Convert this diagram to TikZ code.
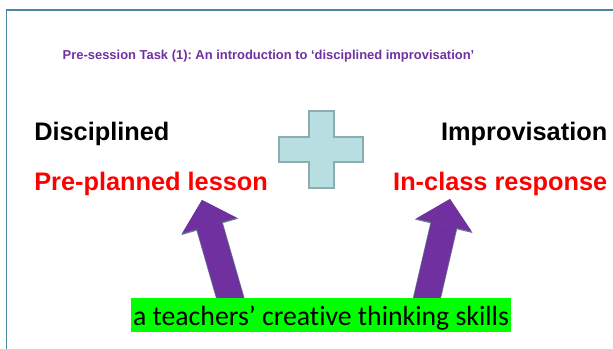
\documentclass[tikz,border=0pt]{standalone}
\usepackage{fontspec}
\setmainfont{Liberation Sans}
\newfontfamily\calibrifont[Ligatures=NoCommon]{Carlito}
\usetikzlibrary{arrows.meta,calc,backgrounds}
\frenchspacing

\definecolor{titlepurple}{HTML}{7030A0}
\definecolor{arrowpurple}{HTML}{7030A0}
\definecolor{arrowedge}{RGB}{95,125,140}
\definecolor{framecol}{RGB}{75,135,160}
\definecolor{plusfill}{RGB}{183,222,225}
\definecolor{plusedge}{RGB}{140,172,176}

\tikzset{
  heading/.style={inner sep=0pt, font=\fontsize{19}{22}\selectfont\bfseries},
  redlabel/.style={heading, text=red},
  upshaft/.style={line width=19.5pt, draw=arrowpurple,
    -{Triangle[length=20pt,width=42.75pt,line width=0pt]},
    preaction={draw=arrowedge, line width=20.6pt,
      -{Triangle[length=21pt,width=44.5pt,line width=0pt]}}}
}

\begin{document}
\begin{tikzpicture}[x=0.75pt,y=-0.75pt]
\useasboundingbox (0,0) rectangle (613,349);

% slide frame
\draw[framecol, line width=1.1pt] (6.5,349) -- (6.5,10) -- (613,10);

% title
\node[inner sep=0pt, anchor=base, text=titlepurple,
      font=\fontsize{9.7}{12}\selectfont\bfseries] (title) at (268.5,59.5)
  {Pre-session Task (1): An introduction to ‘disciplined improvisation’};

% left and right sides
\node[heading, anchor=base west] (disc) at (34,141) {Disciplined};
\node[redlabel, anchor=base west] (lesson) at (34,190) {Pre-planned lesson};
\node[heading, anchor=base east] (improv) at (607.5,141) {Improvisation};
\node[redlabel, anchor=base east] (response) at (607.5,190) {In-class response};

% plus sign
\draw[fill=plusfill, draw=plusedge, line width=0.8pt]
  (309,111) -- (334,111) -- (334,137) -- (363,137) -- (363,162) -- (334,162)
  -- (334,188) -- (309,188) -- (309,162) -- (279,162) -- (279,137) -- (309,137)
  -- cycle;

% creative thinking box
\node[fill=green, inner xsep=1.5pt, inner ysep=0pt, text height=20.25pt,
      text depth=5.25pt, anchor=base, font=\calibrifont\fontsize{20.8}{24}\selectfont]
  (skills) at (321,325) {a teachers’ creative thinking skills};

% arrows up to the two labels
\coordinate (tailL) at ($(skills.north west)+(100.5,4)$);
\coordinate (tailR) at ($(skills.north west)+(295.5,3)$);
\coordinate (tipL) at (202,200);
\coordinate (tipR) at (450,199);
\begin{scope}[on background layer]
\foreach \from/\to in {tailL/tipL, tailR/tipR}
{
    \draw[upshaft] (\from) -- (\to);
}
\end{scope}

\end{tikzpicture}
\end{document}
